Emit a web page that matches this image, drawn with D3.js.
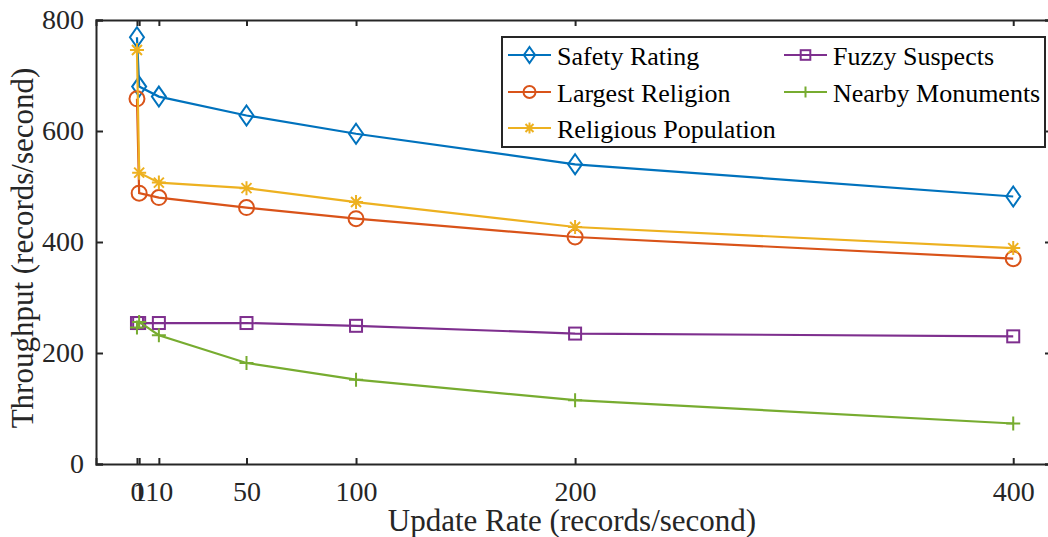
<!DOCTYPE html>
<html>
<head>
<meta charset="utf-8">
<script src="https://cdn.jsdelivr.net/npm/d3@7"></script>
<style>
  body { margin: 0; background: #fff; }
  svg { display: block; font-family: "Liberation Serif", "Times New Roman", serif; }
</style>
</head>
<body>
<div id="chart"></div>
<script>
const WIDTH = 1048;
const HEIGHT = 537;

const updateRates = [0, 1, 10, 50, 100, 200, 400];
const xTicks = [0, 1, 10, 50, 100, 200, 400];
const yTicks = [0, 200, 400, 600, 800];

const safetyRating = [769, 680, 662, 628, 595, 540, 482];
const largestReligion = [658, 488, 480, 462, 442, 409, 370];
const religiousPopulation = [746, 525, 507, 497, 472, 427, 389];
const fuzzySuspects = [254, 254, 254, 254, 249, 235, 230];
const nearbyMonuments = [246, 256, 232, 182, 152, 115, 73];

const seriesNames = ["Safety Rating", "Largest Religion", "Religious Population", "Fuzzy Suspects", "Nearby Monuments"];
const seriesValues = [safetyRating, largestReligion, religiousPopulation, fuzzySuspects, nearbyMonuments];
const seriesColors = ["#0072BD", "#D95319", "#EDB120", "#7E2F8E", "#77AC30"];
const seriesMarkers = ["diamond", "circle", "asterisk", "square", "plus"];

const plot = { left: 96, right: 1052, top: 20, bottom: 464 };
const AXIS_COLOR = "#262626";

const svg = d3.select("#chart")
    .append("svg")
    .attr("width", WIDTH)
    .attr("height", HEIGHT);

const x = d3.scaleLinear().domain([-18.7, 417.7]).range([plot.left, plot.right]);
const y = d3.scaleLinear().domain([0, 800]).range([plot.bottom, plot.top]);

// marker drawing
function drawMarker(g, type, color, s) {
    const sw = 2;
    if (type === "diamond") {
        g.append("path").attr("d", `M0,${-10*s}L${7*s},0L0,${10*s}L${-7*s},0Z`)
            .attr("fill", "none").attr("stroke", color).attr("stroke-width", sw);
    } else if (type === "circle") {
        g.append("circle").attr("r", 7.5 * s)
            .attr("fill", "none").attr("stroke", color).attr("stroke-width", sw);
    } else if (type === "square") {
        g.append("rect").attr("x", -6*s).attr("y", -6*s).attr("width", 12*s).attr("height", 12*s)
            .attr("fill", "none").attr("stroke", color).attr("stroke-width", sw);
    } else if (type === "plus") {
        g.append("path").attr("d", `M${-7*s},0H${7*s}M0,${-7*s}V${7*s}`)
            .attr("stroke", color).attr("stroke-width", sw);
    } else if (type === "asterisk") {
        const a = 7 * s, b = 5 * s;
        g.append("path").attr("d", `M${-a},0H${a}M0,${-a}V${a}M${-b},${-b}L${b},${b}M${-b},${b}L${b},${-b}`)
            .attr("stroke", color).attr("stroke-width", sw);
    }
}

// axes box
const gaxes = svg.append("g").attr("class", "axes");

const xAxisBottom = d3.axisBottom(x).tickValues(xTicks).tickSize(-6).tickPadding(17)
    .tickFormat(d3.format("d"));
gaxes.append("g")
    .attr("transform", `translate(0,${plot.bottom})`)
    .call(xAxisBottom);

const xAxisTop = d3.axisTop(x).tickValues(xTicks).tickSize(-6).tickFormat("");
gaxes.append("g")
    .attr("transform", `translate(0,${plot.top})`)
    .call(xAxisTop);

const yAxisLeft = d3.axisLeft(y).tickValues(yTicks).tickSize(-7).tickPadding(12);
gaxes.append("g")
    .attr("transform", `translate(${plot.left},0)`)
    .call(yAxisLeft);

const yAxisRight = d3.axisRight(y).tickValues(yTicks).tickSize(-7).tickFormat("");
gaxes.append("g")
    .attr("transform", `translate(${plot.right},0)`)
    .call(yAxisRight);

gaxes.selectAll(".domain").attr("stroke", AXIS_COLOR).attr("stroke-width", 2);
gaxes.selectAll(".tick line").attr("stroke", AXIS_COLOR).attr("stroke-width", 2);
gaxes.selectAll(".tick text")
    .attr("fill", AXIS_COLOR)
    .style("font-size", "28px")
    .style("font-family", "'Liberation Serif', serif");

// axis titles
svg.append("text")
    .attr("x", 572)
    .attr("y", 531)
    .attr("text-anchor", "middle")
    .attr("fill", AXIS_COLOR)
    .style("font-size", "31px")
    .text("Update Rate (records/second)");

svg.append("text")
    .attr("transform", `translate(33,${(plot.top + plot.bottom) / 2 + 6}) rotate(-90)`)
    .attr("text-anchor", "middle")
    .attr("fill", AXIS_COLOR)
    .style("font-size", "31px")
    .text("Throughput (records/second)");

// series
const glines = svg.append("g").attr("class", "lines");
const line = d3.line().x((d, i) => x(updateRates[i])).y(d => y(d));

seriesValues.forEach((vals, k) => {
    glines.append("path")
        .datum(vals)
        .attr("d", line)
        .attr("fill", "none")
        .attr("stroke", seriesColors[k])
        .attr("stroke-width", 2.2);
    vals.forEach((v, i) => {
        const g = glines.append("g").attr("transform", `translate(${x(updateRates[i])},${y(v)})`);
        drawMarker(g, seriesMarkers[k], seriesColors[k], 1);
    });
});

// legend
const legend = svg.append("g").attr("class", "legend");
legend.append("rect")
    .attr("x", 502).attr("y", 37).attr("width", 543).attr("height", 110)
    .attr("fill", "#fff").attr("stroke", AXIS_COLOR).attr("stroke-width", 2);

const legendCols = [508, 784];
const legendRows = [55, 92, 128];
const legendPos = [[0, 0], [0, 1], [0, 2], [1, 0], [1, 1]];

seriesNames.forEach((name, k) => {
    const lx = legendCols[legendPos[k][0]];
    const ly = legendRows[legendPos[k][1]];
    legend.append("line")
        .attr("x1", lx).attr("x2", lx + 43).attr("y1", ly).attr("y2", ly)
        .attr("stroke", seriesColors[k]).attr("stroke-width", 2.2);
    const g = legend.append("g").attr("transform", `translate(${lx + 21.5},${ly})`);
    drawMarker(g, seriesMarkers[k], seriesColors[k], 0.8);
    legend.append("text")
        .attr("x", lx + 49).attr("y", ly + 10)
        .attr("fill", "#000")
        .style("font-size", "26px")
        .text(name);
});
</script>
</body>
</html>
